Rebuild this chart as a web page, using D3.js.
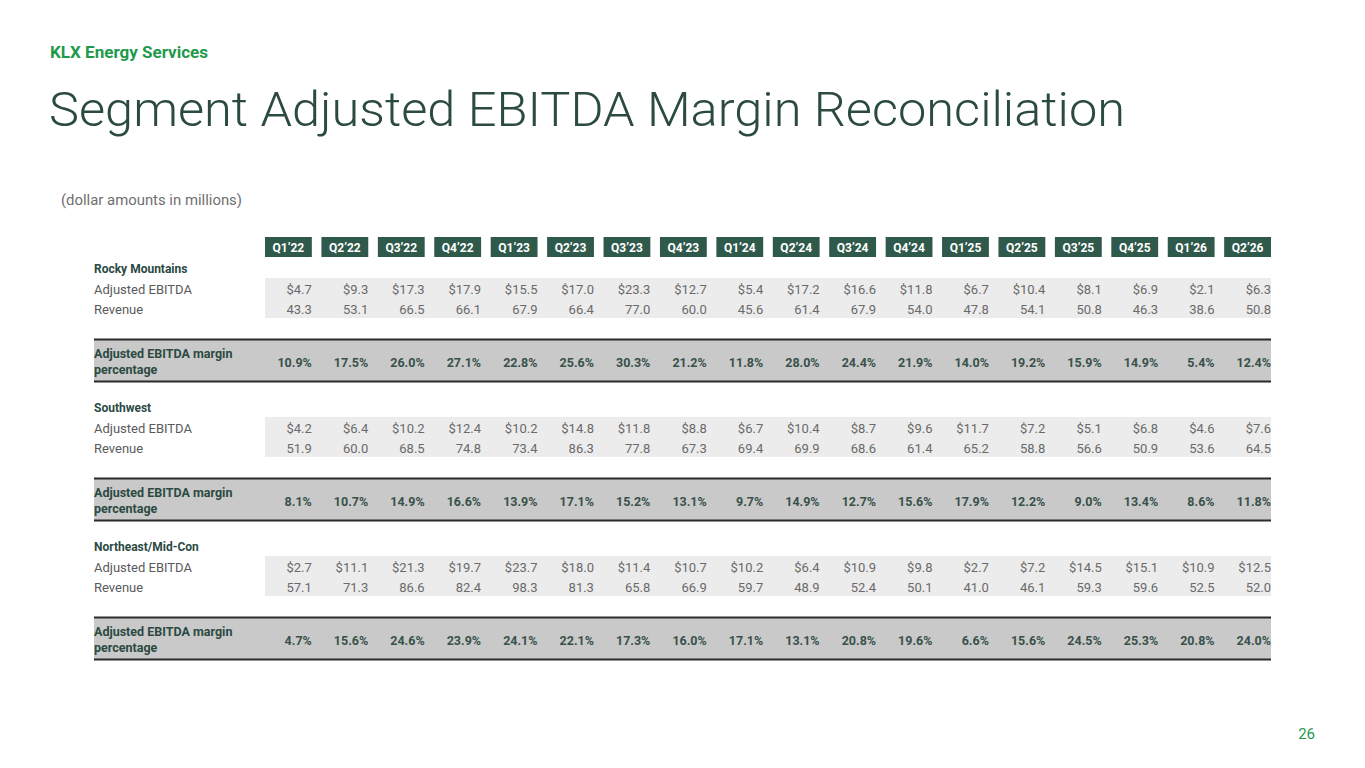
<!DOCTYPE html>
<html>
<head>
<meta charset="utf-8">
<script src="https://cdn.jsdelivr.net/npm/d3@7/dist/d3.min.js"></script>
<style>
  html, body { margin: 0; padding: 0; background: #ffffff; }
  svg { display: block; font-family: Roboto, "Open Sans", sans-serif; }
</style>
</head>
<body>
<svg id="chart" width="1365" height="768"></svg>
<script>
// ---- data ----
const quarters = ["Q1’22","Q2’22","Q3’22","Q4’22","Q1’23","Q2’23","Q3’23","Q4’23","Q1’24","Q2’24","Q3’24","Q4’24","Q1’25","Q2’25","Q3’25","Q4’25","Q1’26","Q2’26"];
const segments = ["Rocky Mountains", "Southwest", "Northeast/Mid-Con"];
const rockyEbitda  = [4.7,9.3,17.3,17.9,15.5,17.0,23.3,12.7,5.4,17.2,16.6,11.8,6.7,10.4,8.1,6.9,2.1,6.3];
const rockyRevenue = [43.3,53.1,66.5,66.1,67.9,66.4,77.0,60.0,45.6,61.4,67.9,54.0,47.8,54.1,50.8,46.3,38.6,50.8];
const rockyMargin  = [10.9,17.5,26.0,27.1,22.8,25.6,30.3,21.2,11.8,28.0,24.4,21.9,14.0,19.2,15.9,14.9,5.4,12.4];
const swEbitda     = [4.2,6.4,10.2,12.4,10.2,14.8,11.8,8.8,6.7,10.4,8.7,9.6,11.7,7.2,5.1,6.8,4.6,7.6];
const swRevenue    = [51.9,60.0,68.5,74.8,73.4,86.3,77.8,67.3,69.4,69.9,68.6,61.4,65.2,58.8,56.6,50.9,53.6,64.5];
const swMargin     = [8.1,10.7,14.9,16.6,13.9,17.1,15.2,13.1,9.7,14.9,12.7,15.6,17.9,12.2,9.0,13.4,8.6,11.8];
const neEbitda     = [2.7,11.1,21.3,19.7,23.7,18.0,11.4,10.7,10.2,6.4,10.9,9.8,2.7,7.2,14.5,15.1,10.9,12.5];
const neRevenue    = [57.1,71.3,86.6,82.4,98.3,81.3,65.8,66.9,59.7,48.9,52.4,50.1,41.0,46.1,59.3,59.6,52.5,52.0];
const neMargin     = [4.7,15.6,24.6,23.9,24.1,22.1,17.3,16.0,17.1,13.1,20.8,19.6,6.6,15.6,24.5,25.3,20.8,24.0];

const sectionData = [
  {name: segments[0], ebitda: rockyEbitda, revenue: rockyRevenue, margin: rockyMargin},
  {name: segments[1], ebitda: swEbitda,    revenue: swRevenue,    margin: swMargin},
  {name: segments[2], ebitda: neEbitda,    revenue: neRevenue,    margin: neMargin}
];

// ---- layout ----
const svg = d3.select("#chart");
const dark = "#2b4a42";
const boxGreen = "#2f5a4b";
const green = "#1f9a4b";
const labelX = 94;

const x = d3.scaleBand().domain(quarters).range([265, 1271]).paddingInner(0.17).paddingOuter(0);
const tableLeft = x(quarters[0]);
const tableRight = x(quarters[quarters.length - 1]) + x.bandwidth();
const sectionY = d3.scaleBand().domain(segments).range([255, 255 + 139 * 3]).padding(0);

// header texts
svg.append("text").attr("x", 50).attr("y", 58)
  .attr("fill", green).attr("font-size", 16).attr("font-weight", 700)
  .attr("textLength", 158).attr("lengthAdjust", "spacingAndGlyphs")
  .text("KLX Energy Services");

svg.append("text").attr("x", 49).attr("y", 126)
  .attr("fill", dark).attr("font-size", 49).attr("font-weight", 300)
  .attr("textLength", 1076).attr("lengthAdjust", "spacingAndGlyphs")
  .text("Segment Adjusted EBITDA Margin Reconciliation");

svg.append("text").attr("x", 61).attr("y", 205)
  .attr("fill", "#6f6f6f").attr("font-size", 14.5).attr("font-weight", 400)
  .attr("textLength", 181).attr("lengthAdjust", "spacingAndGlyphs")
  .text("(dollar amounts in millions)");

svg.append("text").attr("x", 1315).attr("y", 739).attr("text-anchor", "end")
  .attr("fill", green).attr("font-size", 15).text("26");

// column headers
const hdr = svg.append("g").selectAll("g").data(quarters).join("g");
hdr.append("rect")
  .attr("x", d => x(d)).attr("y", 237).attr("width", x.bandwidth()).attr("height", 20)
  .attr("fill", boxGreen);
hdr.append("text")
  .attr("x", d => x(d) + x.bandwidth() / 2).attr("y", 251.5)
  .attr("text-anchor", "middle").attr("fill", "#ffffff")
  .attr("font-size", 12).attr("font-weight", 700)
  .text(d => d);

const fmt1 = d3.format(".1f");

sectionData.forEach(sec => {
  const y0 = sectionY(sec.name);
  const g = svg.append("g");

  // section label
  g.append("text").attr("x", labelX).attr("y", y0 + 18)
    .attr("fill", dark).attr("font-size", 12).attr("font-weight", 700)
    .text(sec.name);

  // data band
  g.append("rect").attr("x", tableLeft).attr("y", y0 + 23)
    .attr("width", tableRight - tableLeft).attr("height", 40).attr("fill", "#ececec");

  g.append("text").attr("x", labelX).attr("y", y0 + 38.5)
    .attr("fill", "#5a5a5a").attr("font-size", 13).text("Adjusted EBITDA");
  g.append("text").attr("x", labelX).attr("y", y0 + 58.5)
    .attr("fill", "#5a5a5a").attr("font-size", 13).text("Revenue");

  g.append("g").selectAll("text").data(sec.ebitda).join("text")
    .attr("x", (d, i) => x(quarters[i]) + x.bandwidth()).attr("y", y0 + 38.5)
    .attr("text-anchor", "end").attr("fill", "#6a6a6a").attr("font-size", 13)
    .text(d => "$" + fmt1(d));
  g.append("g").selectAll("text").data(sec.revenue).join("text")
    .attr("x", (d, i) => x(quarters[i]) + x.bandwidth()).attr("y", y0 + 58.5)
    .attr("text-anchor", "end").attr("fill", "#6a6a6a").attr("font-size", 13)
    .text(d => fmt1(d));

  // margin band
  g.append("rect").attr("x", labelX).attr("y", y0 + 84)
    .attr("width", tableRight - labelX).attr("height", 43).attr("fill", "#c9c9c9");
  g.append("line").attr("x1", labelX).attr("x2", tableRight)
    .attr("y1", y0 + 84.5).attr("y2", y0 + 84.5).attr("stroke", "#2a2a2a").attr("stroke-width", 2);
  g.append("line").attr("x1", labelX).attr("x2", tableRight)
    .attr("y1", y0 + 126.5).attr("y2", y0 + 126.5).attr("stroke", "#2a2a2a").attr("stroke-width", 2);

  g.append("text").attr("x", labelX).attr("y", y0 + 103)
    .attr("fill", dark).attr("font-size", 12.5).attr("font-weight", 700).text("Adjusted EBITDA margin");
  g.append("text").attr("x", labelX).attr("y", y0 + 119)
    .attr("fill", dark).attr("font-size", 12.5).attr("font-weight", 700).text("percentage");

  g.append("g").selectAll("text").data(sec.margin).join("text")
    .attr("x", (d, i) => x(quarters[i]) + x.bandwidth()).attr("y", y0 + 111.5)
    .attr("text-anchor", "end").attr("fill", "#38514a").attr("font-size", 12.5).attr("font-weight", 700)
    .text(d => fmt1(d) + "%");
});
</script>
</body>
</html>
